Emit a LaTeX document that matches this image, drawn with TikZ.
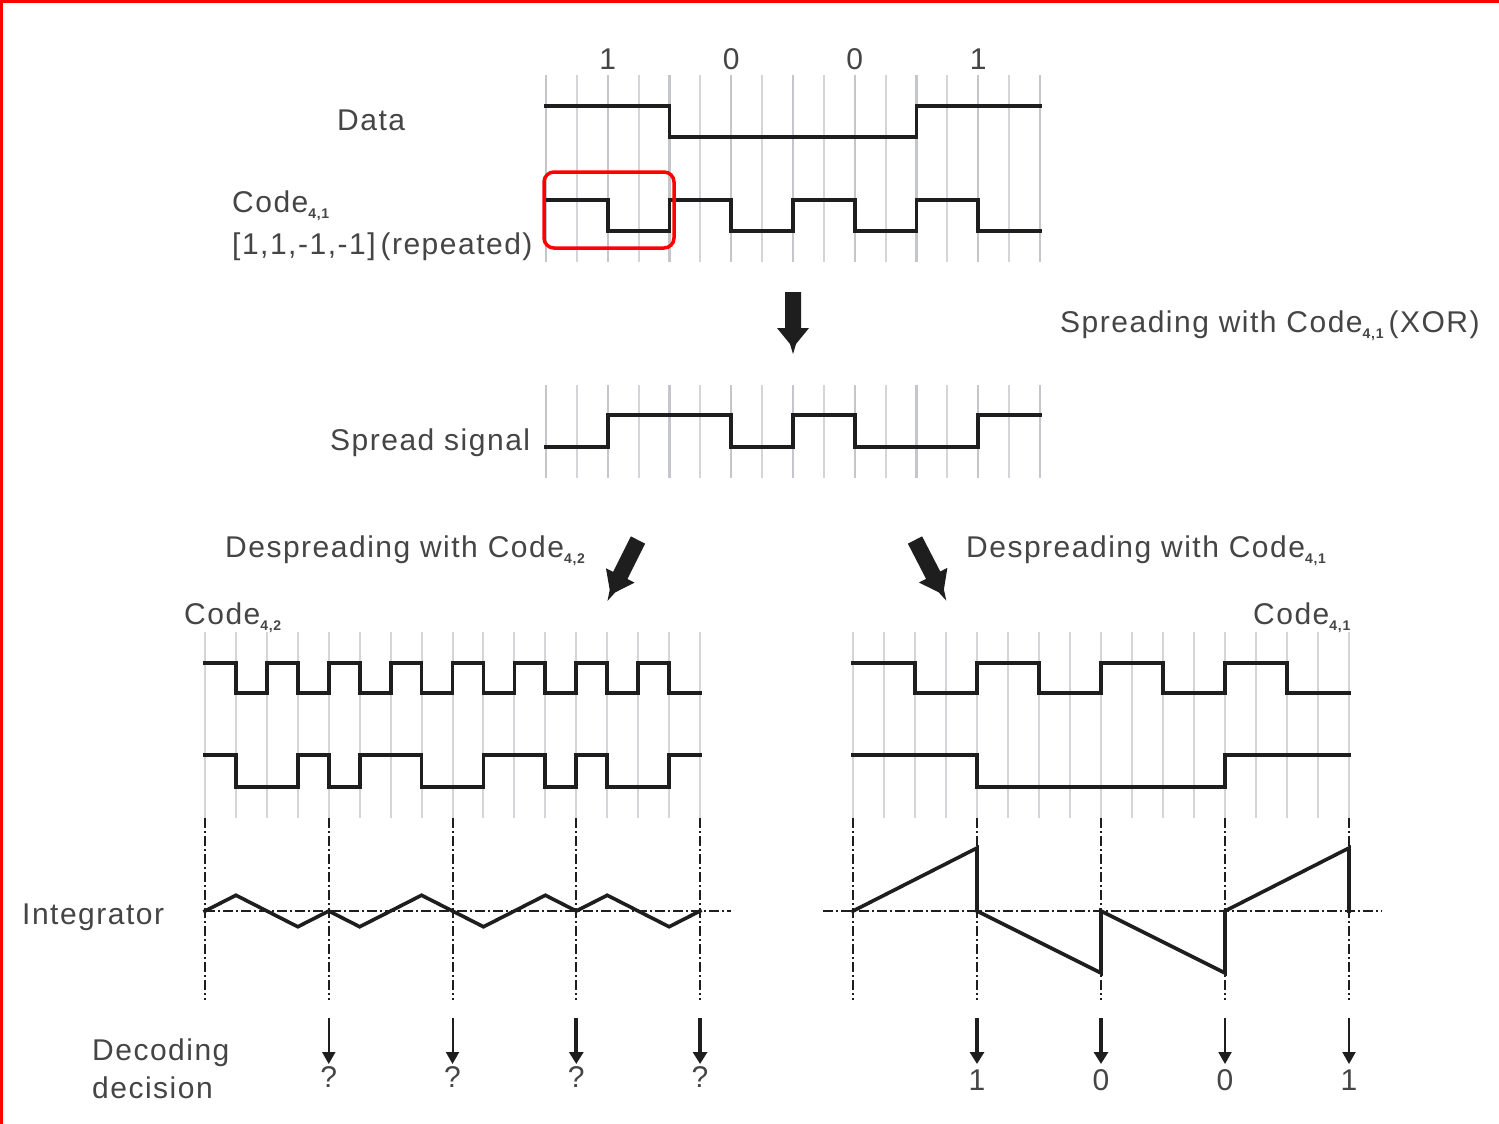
\documentclass[tikz,border=0pt]{standalone}
\usepackage{fontspec}
\setmainfont[LetterSpace=5]{Liberation Sans}
\usetikzlibrary{arrows.meta,calc}

\definecolor{ink}{HTML}{1E1E1E}
\definecolor{txt}{HTML}{454545}
\definecolor{gridc}{HTML}{D3D5D9}
\definecolor{gridd}{HTML}{C4C6CB}
\definecolor{frame}{HTML}{FF0000}

% small lowered index after "Code"
\newcommand\csub[1]{\raisebox{-0.22em}{\fontsize{14}{14}\selectfont\bfseries #1}}

\tikzset{
  pics/blockarrow/.style={code={
    \fill[ink] (-8,0) -- (8,0) -- (8,36) -- (16,36) -- (3,52) -- (0,62)
      -- (-3,52) -- (-16,36) -- (-8,36) -- cycle;}}
}

\begin{document}
\begin{tikzpicture}[x=1pt,y=-1pt,
  lbl/.style={anchor=base west, inner sep=0pt, text=txt, font=\fontsize{30}{36}\selectfont},
  clbl/.style={anchor=base, inner sep=0pt, text=txt, font=\fontsize{30}{36}\selectfont},
  sig/.style={draw=ink, line width=3.8pt, line join=miter, line cap=rect},
  gridln/.style={draw=gridc, line width=2pt},
  gridlnd/.style={draw=gridd, line width=2.2pt},
  dashdot/.style={draw=ink, line width=2pt, dash pattern=on 10pt off 3pt on 2pt off 3pt},
  decthin/.style={draw=ink, line width=2pt, -{Triangle[length=12pt,width=13pt]}},
  decthick/.style={draw=ink, line width=4pt, -{Triangle[length=12pt,width=14pt]}},
  marker/.style={draw=frame, line width=3.5pt, rounded corners=10pt}
]
\useasboundingbox (0,0) rectangle (1499,1124);
\fill[white] (0,0) rectangle (1499,1124);

% frame edges (top and left)
\draw[frame, line width=3pt] (0,1.5) -- (1499,1.5);
\draw[frame, line width=3pt] (1.5,0) -- (1.5,1124);

% ---------------- transmitter: data, code, spread signal ----------------
\begin{scope}[xshift=546pt, x=30.875pt]
  \foreach \i in {0,2,...,16} {
    \draw[gridlnd] (\i,75) -- (\i,262);
    \draw[gridlnd] (\i,385) -- (\i,478);
  }
  \foreach \i in {1,3,...,15} {
    \draw[gridln] (\i,75) -- (\i,262);
    \draw[gridln] (\i,385) -- (\i,478);
  }
  % data bits
  \node[clbl] (b1) at (2,70) {1};
  \node[clbl] (b2) at (6,70) {0};
  \node[clbl] (b3) at (10,70) {0};
  \node[clbl] (b4) at (14,70) {1};
  \draw[sig] (0,106) -- (4,106) -- (4,137) -- (12,137) -- (12,106) -- (16,106);
  % code 4,1
  \draw[sig] (0,200) -- (2,200) -- (2,231) -- (4,231) -- (4,200) -- (6,200)
    -- (6,231) -- (8,231) -- (8,200) -- (10,200) -- (10,231) -- (12,231)
    -- (12,200) -- (14,200) -- (14,231) -- (16,231);
  % spread signal
  \draw[sig] (0,447) -- (2,447) -- (2,415) -- (6,415) -- (6,447) -- (8,447)
    -- (8,415) -- (10,415) -- (10,447) -- (14,447) -- (14,415) -- (16,415);
\end{scope}

% one code period
\draw[marker] (544,172) rectangle (674,248);

\node[lbl] (data) at (337,130) {Data};
\node[lbl] (code) at (232,212) {Code\csub{4,1}};
\node[lbl] (rep) at (232,254) {[1,1,-1,-1]\,(repeated)};
\node[lbl] (spreadtxt) at (1060,332) {Spreading with Code\csub{4,1}\,(XOR)};
\node[lbl] (spread) at (330,450) {Spread signal};

% block arrows
\path (793,292) pic {blockarrow};
\path (638,540) pic[rotate=-26.6, yscale=1.1] {blockarrow};
\path (915,540) pic[rotate=27.3, yscale=1.1] {blockarrow};

\node[lbl] (desp2) at (225,557) {Despreading with Code\csub{4,2}};
\node[lbl] (desp1) at (966,557) {Despreading with Code\csub{4,1}};
\node[lbl] (code42) at (184,624) {Code\csub{4,2}};
\node[lbl] (code41) at (1253,624) {Code\csub{4,1}};
\node[lbl] (integ) at (22,924) {Integrator};
\node[lbl] (dec1) at (92,1060) {Decoding};
\node[lbl] (dec2) at (92,1098) {decision};

% ---------------- receiver with the wrong code ----------------
\begin{scope}[xshift=205pt, x=30.94pt]
  \foreach \i in {0,...,16} \draw[gridln] (\i,632) -- (\i,818);
  \draw[sig] (0,663) -- (1,663) -- (1,693) -- (2,693) -- (2,663) -- (3,663)
    -- (3,693) -- (4,693) -- (4,663) -- (5,663) -- (5,693) -- (6,693)
    -- (6,663) -- (7,663) -- (7,693) -- (8,693) -- (8,663) -- (9,663)
    -- (9,693) -- (10,693) -- (10,663) -- (11,663) -- (11,693) -- (12,693)
    -- (12,663) -- (13,663) -- (13,693) -- (14,693) -- (14,663) -- (15,663)
    -- (15,693) -- (16,693);
  \draw[sig] (0,755) -- (1,755) -- (1,787) -- (3,787) -- (3,755) -- (4,755)
    -- (4,787) -- (5,787) -- (5,755) -- (7,755) -- (7,787) -- (9,787)
    -- (9,755) -- (11,755) -- (11,787) -- (12,787) -- (12,755) -- (13,755)
    -- (13,787) -- (15,787) -- (15,755) -- (16,755);
  \foreach \i in {0,4,...,16} \draw[dashdot] (\i,818) -- (\i,1000);
  \draw[dashdot] (0,911) -- (17,911);
  \draw[sig, line width=3.6pt] (0,911) -- (1,895.25) -- (3,926.75) -- (4,911)
    -- (5,926.75) -- (7,895.25) -- (8,911) -- (9,926.75) -- (11,895.25)
    -- (12,911) -- (13,895.25) -- (15,926.75) -- (16,911);
  \foreach \i/\n in {4/qa, 8/qb, 12/qc, 16/qd} {
    \coordinate (\n s) at (\i,1018);
    \node[clbl] (\n) at (\i,1087) {?};
  }
  \draw[decthin] (qas) -- ++(0,46);
  \draw[decthin] (qbs) -- ++(0,46);
  \draw[decthick] (qcs) -- ++(0,46);
  \draw[decthick] (qds) -- ++(0,46);
\end{scope}

% ---------------- receiver with the matching code ----------------
\begin{scope}[xshift=853pt, x=31pt]
  \foreach \i in {0,...,16} \draw[gridln] (\i,632) -- (\i,818);
  \draw[sig] (0,663) -- (2,663) -- (2,693) -- (4,693) -- (4,663) -- (6,663)
    -- (6,693) -- (8,693) -- (8,663) -- (10,663) -- (10,693) -- (12,693)
    -- (12,663) -- (14,663) -- (14,693) -- (16,693);
  \draw[sig] (0,755) -- (4,755) -- (4,787) -- (12,787) -- (12,755) -- (16,755);
  \foreach \i in {0,4,...,16} \draw[dashdot] (\i,818) -- (\i,1000);
  \draw[dashdot] (-0.97,911) -- (17.05,911);
  \draw[sig, line width=3.6pt] (0,911) -- (4,848) -- (4,911) -- (8,973) -- (8,911)
    -- (12,973) -- (12,911) -- (16,848) -- (16,911);
  \foreach \i/\n/\v in {4/ra/1, 8/rb/0, 12/rc/0, 16/rd/1} {
    \coordinate (\n s) at (\i,1018);
    \node[clbl] (\n) at (\i,1090) {\v};
  }
  \draw[decthick] (ras) -- ++(0,46);
  \draw[decthick] (rbs) -- ++(0,46);
  \draw[decthin] (rcs) -- ++(0,46);
  \draw[decthin] (rds) -- ++(0,46);
\end{scope}
\end{tikzpicture}
\end{document}
